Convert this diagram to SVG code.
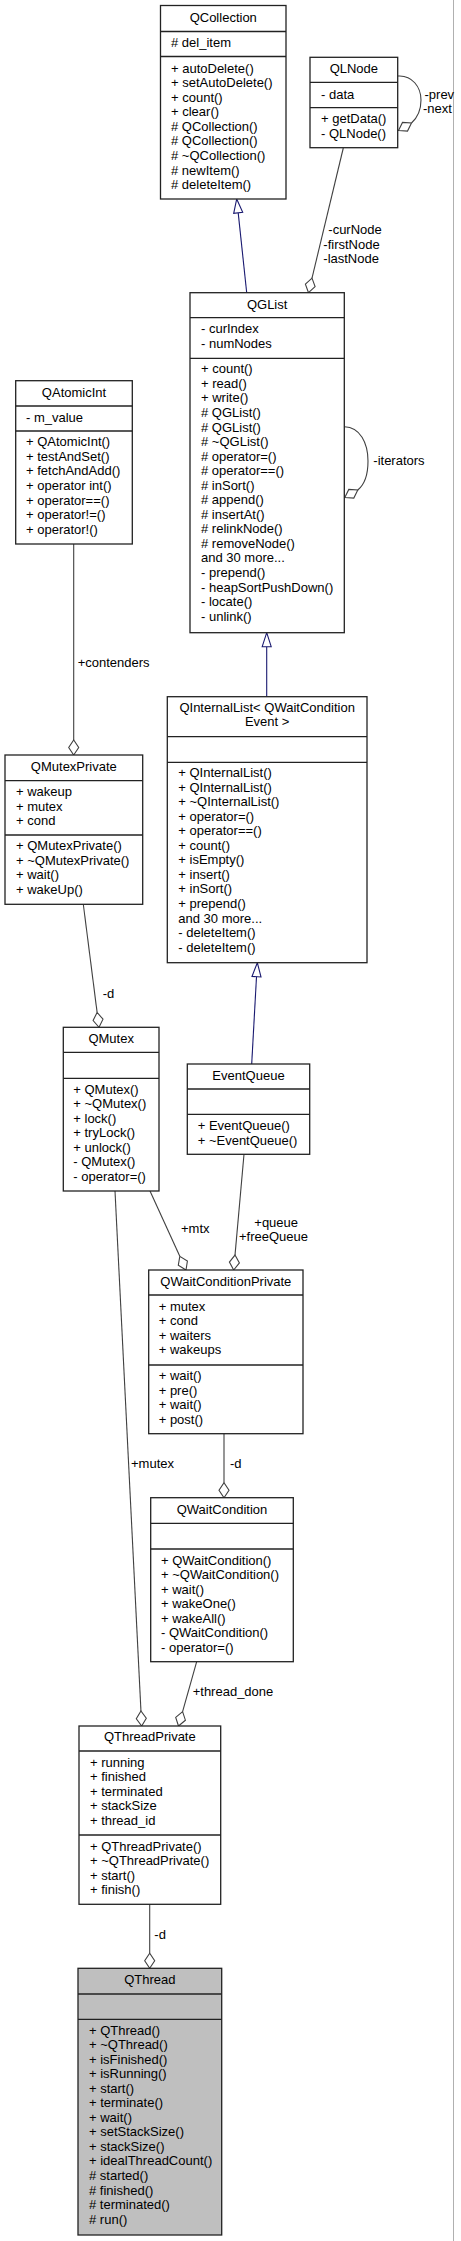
<svg xmlns="http://www.w3.org/2000/svg" width="461" height="2241" viewBox="0 0 461 2241">
<style>
text{font-family:"Liberation Sans",Arial,sans-serif;font-size:13px;fill:#000}
.t{text-anchor:middle}
.box{fill:#fff;stroke:#222;stroke-width:1.3}
.cur{fill:#bfbfbf;stroke:#222;stroke-width:1.3}
.sep{stroke:#222;stroke-width:1.3}
.use{fill:none;stroke:#404040;stroke-width:1.1}
.inh{fill:none;stroke:#191970;stroke-width:1.1}
.dia{fill:#fff;stroke:#404040;stroke-width:1.1}
.tri{fill:#fff;stroke:#191970;stroke-width:1.1}
</style>
<rect x="0" y="0" width="461" height="2241" fill="#fff"/>
<line x1="453.5" y1="0" x2="453.5" y2="2241" stroke="#b0b0b0" stroke-width="1"/>

<g id="connectors">
<!-- QLNode -> QGList -->
<path class="use" d="M343.3,148 L312,278.1"/>
<polygon class="dia" points="308.5,292.7 315.1,286.6 312,278.1 305.4,284.2"/>
<text x="328.3" y="234">-curNode</text>
<text x="323.3" y="248.5">-firstNode</text>
<text x="323.3" y="262.8">-lastNode</text>
<!-- QLNode self -->
<path class="use" d="M398,76 C412,75 421,87 421,100 C421,111 417,118 411.5,123"/>
<polygon class="dia" points="398.5,130.5 407.5,131.1 411.5,123 402.5,122.4"/>
<text x="424.5" y="98.7">-prev</text>
<text x="423" y="112.7">-next</text>
<!-- QCollection -> QGList inheritance -->
<path class="inh" d="M246.7,292.7 L238.2,212.9"/>
<polygon class="tri" points="236.7,199 242.7,212.4 233.7,213.4"/>
<!-- QGList self -->
<path class="use" d="M344.5,426.7 C360,427 368,443 368,461 C368,475 364,485 357.8,490"/>
<polygon class="dia" points="344.8,497.5 353.8,498.1 357.8,490 348.8,489.4"/>
<text x="373.3" y="465">-iterators</text>
<!-- QGList -> QInternalList inheritance -->
<path class="inh" d="M266.7,696.7 L266.7,646.7"/>
<polygon class="tri" points="266.7,632.7 271.2,646.7 262.2,646.7"/>
<!-- QAtomicInt -> QMutexPrivate -->
<path class="use" d="M73.7,544 L73.7,740"/>
<polygon class="dia" points="73.7,755 78.7,747.5 73.7,740 68.7,747.5"/>
<text x="77.7" y="667.3">+contenders</text>
<!-- QMutexPrivate -> QMutex -->
<path class="use" d="M83.3,904.3 L97.1,1012.4"/>
<polygon class="dia" points="99,1027.3 103,1019.2 97.1,1012.4 93.1,1020.5"/>
<text x="102.7" y="998.3">-d</text>
<!-- QInternalList -> EventQueue inheritance -->
<path class="inh" d="M251.7,1064 L256.5,976.7"/>
<polygon class="tri" points="257.3,962.7 261,976.95 252,976.45"/>
<!-- QMutex -> QWaitConditionPrivate -->
<path class="use" d="M150,1191 L179.8,1256.3"/>
<polygon class="dia" points="186,1270 187.4,1261.1 179.8,1256.3 178.3,1265.2"/>
<text x="181" y="1233.3">+mtx</text>
<!-- EventQueue -> QWaitConditionPrivate -->
<path class="use" d="M244,1154.3 L235,1255.1"/>
<polygon class="dia" points="233.7,1270 239.4,1262.9 235,1255.1 229.4,1262.1"/>
<text x="254.3" y="1226.7">+queue</text>
<text x="239" y="1240.7">+freeQueue</text>
<!-- QMutex -> QThreadPrivate -->
<path class="use" d="M115,1191 L140.95,1711"/>
<polygon class="dia" points="141.7,1726 146.3,1718.25 140.95,1711 136.3,1718.75"/>
<text x="131" y="1468.3">+mutex</text>
<!-- QWaitConditionPrivate -> QWaitCondition -->
<path class="use" d="M224,1433.7 L224,1482.7"/>
<polygon class="dia" points="224,1497.7 229,1490.2 224,1482.7 219,1490.2"/>
<text x="230" y="1468.3">-d</text>
<!-- QWaitCondition -> QThreadPrivate -->
<path class="use" d="M196.7,1661.7 L182.6,1711.6"/>
<polygon class="dia" points="178.5,1726 185.4,1720.2 182.6,1711.6 175.7,1717.4"/>
<text x="192.7" y="1695.7">+thread_done</text>
<!-- QThreadPrivate -> QThread -->
<path class="use" d="M149.7,1904.3 L149.7,1953.3"/>
<polygon class="dia" points="149.7,1968.3 154.7,1960.8 149.7,1953.3 144.7,1960.8"/>
<text x="154.3" y="1939.3">-d</text>
</g>

<g id="QCollection">
<rect class="box" x="160.5" y="5.5" width="125.5" height="193.5"/>
<line class="sep" x1="160.5" y1="31.5" x2="286" y2="31.5"/>
<line class="sep" x1="160.5" y1="56.5" x2="286" y2="56.5"/>
<text class="t" x="223.25" y="22">QCollection</text>
<text x="171" y="47"># del_item</text>
<text x="171" y="72.7">+ autoDelete()</text>
<text x="171" y="87.25">+ setAutoDelete()</text>
<text x="171" y="101.8">+ count()</text>
<text x="171" y="116.35">+ clear()</text>
<text x="171" y="130.9"># QCollection()</text>
<text x="171" y="145.45"># QCollection()</text>
<text x="171" y="160"># ~QCollection()</text>
<text x="171" y="174.55"># newItem()</text>
<text x="171" y="189.1"># deleteItem()</text>
</g>

<g id="QLNode">
<rect class="box" x="310" y="57.3" width="87.7" height="90.4"/>
<line class="sep" x1="310" y1="82.3" x2="397.7" y2="82.3"/>
<line class="sep" x1="310" y1="107.7" x2="397.7" y2="107.7"/>
<text class="t" x="353.85" y="73">QLNode</text>
<text x="321" y="98.5">- data</text>
<text x="321" y="123.3">+ getData()</text>
<text x="321" y="137.85">- QLNode()</text>
</g>

<g id="QGList">
<rect class="box" x="190" y="292.7" width="154.3" height="340"/>
<line class="sep" x1="190" y1="317.7" x2="344.3" y2="317.7"/>
<line class="sep" x1="190" y1="358.3" x2="344.3" y2="358.3"/>
<text class="t" x="267.15" y="308.5">QGList</text>
<text x="201" y="333.3">- curIndex</text>
<text x="201" y="347.85">- numNodes</text>
<text x="201" y="373.3">+ count()</text>
<text x="201" y="387.85">+ read()</text>
<text x="201" y="402.4">+ write()</text>
<text x="201" y="416.95"># QGList()</text>
<text x="201" y="431.5"># QGList()</text>
<text x="201" y="446.05"># ~QGList()</text>
<text x="201" y="460.6"># operator=()</text>
<text x="201" y="475.15"># operator==()</text>
<text x="201" y="489.7"># inSort()</text>
<text x="201" y="504.25"># append()</text>
<text x="201" y="518.8"># insertAt()</text>
<text x="201" y="533.35"># relinkNode()</text>
<text x="201" y="547.9"># removeNode()</text>
<text x="201" y="562.45">and 30 more...</text>
<text x="201" y="577">- prepend()</text>
<text x="201" y="591.55">- heapSortPushDown()</text>
<text x="201" y="606.1">- locate()</text>
<text x="201" y="620.65">- unlink()</text>
</g>

<g id="QAtomicInt">
<rect class="box" x="15.7" y="380.7" width="116.6" height="163.3"/>
<line class="sep" x1="15.7" y1="406" x2="132.3" y2="406"/>
<line class="sep" x1="15.7" y1="431" x2="132.3" y2="431"/>
<text class="t" x="74" y="396.7">QAtomicInt</text>
<text x="26" y="421.7">- m_value</text>
<text x="26" y="446.3">+ QAtomicInt()</text>
<text x="26" y="460.85">+ testAndSet()</text>
<text x="26" y="475.4">+ fetchAndAdd()</text>
<text x="26" y="489.95">+ operator int()</text>
<text x="26" y="504.5">+ operator==()</text>
<text x="26" y="519.05">+ operator!=()</text>
<text x="26" y="533.6">+ operator!()</text>
</g>

<g id="QInternalList">
<rect class="box" x="167.3" y="696.7" width="199.7" height="266"/>
<line class="sep" x1="167.3" y1="736.7" x2="367" y2="736.7"/>
<line class="sep" x1="167.3" y1="762.3" x2="367" y2="762.3"/>
<text class="t" x="267.15" y="712.3">QInternalList&lt; QWaitCondition</text>
<text class="t" x="267.15" y="726.3">Event &gt;</text>
<text x="178.3" y="777">+ QInternalList()</text>
<text x="178.3" y="791.55">+ QInternalList()</text>
<text x="178.3" y="806.1">+ ~QInternalList()</text>
<text x="178.3" y="820.65">+ operator=()</text>
<text x="178.3" y="835.2">+ operator==()</text>
<text x="178.3" y="849.75">+ count()</text>
<text x="178.3" y="864.3">+ isEmpty()</text>
<text x="178.3" y="878.85">+ insert()</text>
<text x="178.3" y="893.4">+ inSort()</text>
<text x="178.3" y="907.95">+ prepend()</text>
<text x="178.3" y="922.5">and 30 more...</text>
<text x="178.3" y="937.05">- deleteItem()</text>
<text x="178.3" y="951.6">- deleteItem()</text>
</g>

<g id="QMutexPrivate">
<rect class="box" x="5" y="755" width="137.7" height="149.3"/>
<line class="sep" x1="5" y1="780.7" x2="142.7" y2="780.7"/>
<line class="sep" x1="5" y1="835" x2="142.7" y2="835"/>
<text class="t" x="73.85" y="770.5">QMutexPrivate</text>
<text x="16" y="796">+ wakeup</text>
<text x="16" y="810.55">+ mutex</text>
<text x="16" y="825.1">+ cond</text>
<text x="16" y="850.3">+ QMutexPrivate()</text>
<text x="16" y="864.85">+ ~QMutexPrivate()</text>
<text x="16" y="879.4">+ wait()</text>
<text x="16" y="893.95">+ wakeUp()</text>
</g>

<g id="QMutex">
<rect class="box" x="63.3" y="1027.3" width="95.7" height="163.7"/>
<line class="sep" x1="63.3" y1="1052.3" x2="159" y2="1052.3"/>
<line class="sep" x1="63.3" y1="1078.3" x2="159" y2="1078.3"/>
<text class="t" x="111.15" y="1042.5">QMutex</text>
<text x="73.3" y="1093.5">+ QMutex()</text>
<text x="73.3" y="1108.05">+ ~QMutex()</text>
<text x="73.3" y="1122.6">+ lock()</text>
<text x="73.3" y="1137.15">+ tryLock()</text>
<text x="73.3" y="1151.7">+ unlock()</text>
<text x="73.3" y="1166.25">- QMutex()</text>
<text x="73.3" y="1180.8">- operator=()</text>
</g>

<g id="EventQueue">
<rect class="box" x="187.3" y="1064" width="122.4" height="90.3"/>
<line class="sep" x1="187.3" y1="1089" x2="309.7" y2="1089"/>
<line class="sep" x1="187.3" y1="1114.3" x2="309.7" y2="1114.3"/>
<text class="t" x="248.5" y="1080">EventQueue</text>
<text x="197.7" y="1130">+ EventQueue()</text>
<text x="197.7" y="1144.5">+ ~EventQueue()</text>
</g>

<g id="QWaitConditionPrivate">
<rect class="box" x="148.7" y="1270" width="154.3" height="163.7"/>
<line class="sep" x1="148.7" y1="1295" x2="303" y2="1295"/>
<line class="sep" x1="148.7" y1="1365" x2="303" y2="1365"/>
<text class="t" x="225.85" y="1285.7">QWaitConditionPrivate</text>
<text x="158.7" y="1310.5">+ mutex</text>
<text x="158.7" y="1325.05">+ cond</text>
<text x="158.7" y="1339.6">+ waiters</text>
<text x="158.7" y="1354.15">+ wakeups</text>
<text x="158.7" y="1380.3">+ wait()</text>
<text x="158.7" y="1394.85">+ pre()</text>
<text x="158.7" y="1409.4">+ wait()</text>
<text x="158.7" y="1423.95">+ post()</text>
</g>

<g id="QWaitCondition">
<rect class="box" x="150.7" y="1497.7" width="142.6" height="164"/>
<line class="sep" x1="150.7" y1="1523.3" x2="293.3" y2="1523.3"/>
<line class="sep" x1="150.7" y1="1549" x2="293.3" y2="1549"/>
<text class="t" x="222" y="1513.5">QWaitCondition</text>
<text x="161" y="1564.5">+ QWaitCondition()</text>
<text x="161" y="1579.05">+ ~QWaitCondition()</text>
<text x="161" y="1593.6">+ wait()</text>
<text x="161" y="1608.15">+ wakeOne()</text>
<text x="161" y="1622.7">+ wakeAll()</text>
<text x="161" y="1637.25">- QWaitCondition()</text>
<text x="161" y="1651.8">- operator=()</text>
</g>

<g id="QThreadPrivate">
<rect class="box" x="79" y="1726" width="141.7" height="178.3"/>
<line class="sep" x1="79" y1="1751" x2="220.7" y2="1751"/>
<line class="sep" x1="79" y1="1835" x2="220.7" y2="1835"/>
<text class="t" x="149.85" y="1741.3">QThreadPrivate</text>
<text x="90" y="1766.7">+ running</text>
<text x="90" y="1781.25">+ finished</text>
<text x="90" y="1795.8">+ terminated</text>
<text x="90" y="1810.35">+ stackSize</text>
<text x="90" y="1824.9">+ thread_id</text>
<text x="90" y="1850.7">+ QThreadPrivate()</text>
<text x="90" y="1865.25">+ ~QThreadPrivate()</text>
<text x="90" y="1879.8">+ start()</text>
<text x="90" y="1894.35">+ finish()</text>
</g>

<g id="QThread">
<rect class="cur" x="78" y="1968.3" width="143.7" height="266.7"/>
<line class="sep" x1="78" y1="1994" x2="221.7" y2="1994"/>
<line class="sep" x1="78" y1="2019.3" x2="221.7" y2="2019.3"/>
<text class="t" x="149.85" y="1984.3">QThread</text>
<text x="89" y="2034.5">+ QThread()</text>
<text x="89" y="2049.05">+ ~QThread()</text>
<text x="89" y="2063.6">+ isFinished()</text>
<text x="89" y="2078.15">+ isRunning()</text>
<text x="89" y="2092.7">+ start()</text>
<text x="89" y="2107.25">+ terminate()</text>
<text x="89" y="2121.8">+ wait()</text>
<text x="89" y="2136.35">+ setStackSize()</text>
<text x="89" y="2150.9">+ stackSize()</text>
<text x="89" y="2165.45">+ idealThreadCount()</text>
<text x="89" y="2180"># started()</text>
<text x="89" y="2194.55"># finished()</text>
<text x="89" y="2209.1"># terminated()</text>
<text x="89" y="2223.65"># run()</text>
</g>
</svg>
